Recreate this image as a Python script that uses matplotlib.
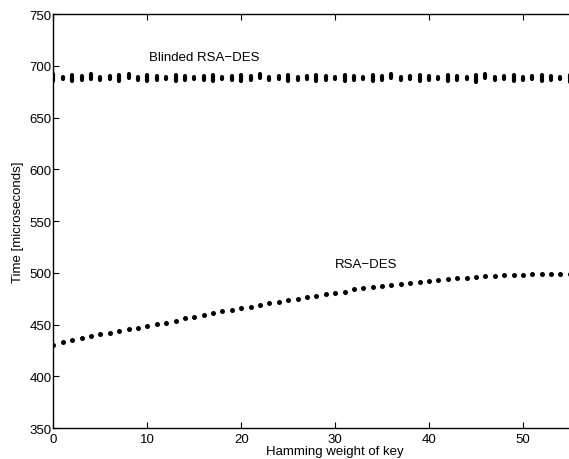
import matplotlib
matplotlib.use("Agg")
import matplotlib.pyplot as plt
import numpy as np

plt.rcParams['font.family'] = ['Liberation Sans', 'DejaVu Sans']

weights = list(range(0, 57))
rsa_des = [430, 433, 435, 437, 439, 441, 442, 444, 446, 447, 449, 451, 452, 454, 456,
           457, 459, 461, 463, 464, 466, 467, 469, 471, 472, 474, 475, 477, 478, 480,
           481, 482, 484, 485, 486, 487, 488, 489, 490, 491, 492, 493, 494, 495, 495,
           496, 497, 497, 498, 498, 498, 499, 499, 499, 499, 499, 499]
blinded_hi = [692, 689, 691, 690, 692, 689, 690, 691, 692, 689, 691, 690, 689, 691, 690,
              689, 690, 691, 689, 690, 691, 690, 692, 689, 690, 691, 689, 690, 691, 690,
              689, 691, 690, 689, 691, 690, 692, 689, 690, 691, 690, 689, 691, 690, 689,
              691, 692, 689, 690, 691, 689, 690, 691, 690, 689, 691, 690]
blinded_lo = [685, 687, 685, 686, 687, 686, 687, 685, 688, 686, 685, 686, 687, 685, 686,
              687, 686, 685, 687, 686, 685, 686, 688, 686, 687, 685, 686, 687, 685, 686,
              687, 685, 686, 687, 685, 686, 688, 686, 687, 685, 686, 687, 685, 686, 687,
              684, 688, 686, 687, 685, 686, 687, 685, 686, 687, 684, 686]
x_ticks = [0, 10, 20, 30, 40, 50]
y_ticks = [350, 400, 450, 500, 550, 600, 650, 700, 750]

fig = plt.figure(figsize=(5.69, 4.60), dpi=100)
ax = fig.add_axes([0.094, 0.067, 0.99, 0.90])

ax.plot(weights, rsa_des, linestyle='none', marker='o', markersize=3.6,
        color='black', markeredgewidth=0)
ax.vlines(weights, blinded_lo, blinded_hi, color='black', linewidth=3.0,
          capstyle='round')

ax.set_xlim(0, 60)
ax.set_ylim(350, 750)
ax.set_xticks(x_ticks)
ax.set_yticks(y_ticks)
ax.tick_params(direction='in', length=4, width=0.8, labelsize=9.5, top=True,
               right=True)
ax.tick_params(axis='y', pad=1.5)
ax.tick_params(axis='x', pad=3.5)
for s in ax.spines.values():
    s.set_linewidth(1.0)

ax.text(16.1, 709, 'Blinded RSA\u2212DES', ha='center', va='center', fontsize=9.5)
ax.text(33.3, 509, 'RSA\u2212DES', ha='center', va='center', fontsize=9.5)

ax.set_xlabel('Hamming weight of key', fontsize=9.5, labelpad=0)
ax.set_ylabel('Time [microseconds]', fontsize=9.5, labelpad=4)

fig.savefig('out.png', dpi=100)
